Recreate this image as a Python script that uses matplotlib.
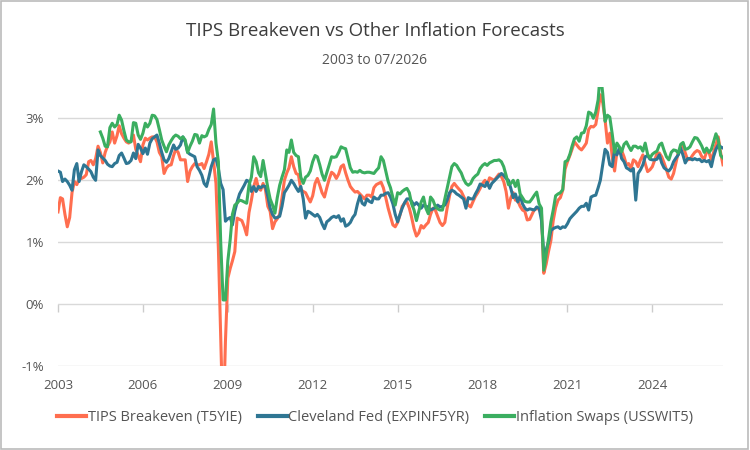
import numpy as np
import pandas as pd
import matplotlib
matplotlib.use("Agg")
import matplotlib.pyplot as plt
from matplotlib.ticker import FuncFormatter
from matplotlib.patches import Rectangle

plt.rcParams["font.family"] = ["Open Sans", "DejaVu Sans"]

# monthly values, Jan 2003 .. Jul 2026 (%)
tips_breakeven = [
    1.49, 1.72, 1.70, 1.45, 1.25, 1.40, 1.80, 1.98, 1.93, 2.02, 2.03, 2.05,
    2.09, 2.30, 2.32, 2.25, 2.35, 2.55, 2.45, 2.28, 2.45, 2.55, 2.62, 2.78,
    2.60, 2.72, 2.88, 2.75, 2.68, 2.62, 2.60, 2.63, 2.73, 2.50, 2.40, 2.30,
    2.57, 2.68, 2.65, 2.68, 2.70, 2.70, 2.62, 2.45, 2.38, 2.11, 2.20, 2.24,
    2.25, 2.40, 2.50, 2.45, 2.33, 2.33, 2.33, 1.98, 2.15, 2.22, 2.27, 2.25,
    2.25, 2.27, 2.19, 2.30, 2.42, 2.62, 2.30, 1.95, 0.90, -0.50, -2.00, -0.60,
    0.42, 0.58, 0.70, 0.85, 1.39, 1.37, 1.35, 1.25, 1.12, 1.48, 1.68, 1.90,
    2.03, 1.87, 1.84, 1.95, 1.85, 1.58, 1.50, 1.22, 1.33, 1.38, 1.45, 1.72,
    2.00, 2.12, 2.20, 2.38, 2.22, 2.11, 2.09, 1.85, 1.82, 1.80, 1.72, 1.65,
    1.75, 1.95, 2.03, 1.92, 1.80, 1.73, 1.88, 2.02, 2.13, 2.10, 2.03, 2.10,
    2.22, 2.25, 2.12, 2.00, 1.90, 1.85, 1.81, 1.82, 1.78, 1.74, 1.70, 1.76,
    1.76, 1.73, 1.88, 1.93, 1.95, 1.97, 1.88, 1.72, 1.55, 1.42, 1.28, 1.25,
    1.32, 1.44, 1.58, 1.63, 1.65, 1.55, 1.40, 1.22, 1.10, 1.15, 1.27, 1.23,
    1.28, 1.32, 1.45, 1.55, 1.52, 1.42, 1.32, 1.27, 1.32, 1.55, 1.75, 1.90,
    1.95, 1.90, 1.86, 1.82, 1.74, 1.66, 1.60, 1.57, 1.66, 1.74, 1.80, 1.87,
    1.95, 2.00, 1.92, 2.04, 2.02, 2.00, 2.05, 2.10, 2.06, 1.98, 1.82, 1.55,
    1.72, 1.80, 1.68, 1.67, 1.58, 1.52, 1.50, 1.36, 1.37, 1.45, 1.53, 1.54,
    1.54, 1.45, 0.50, 0.65, 0.85, 1.03, 1.35, 1.56, 1.68, 1.72, 1.84, 2.18,
    2.30, 2.40, 2.50, 2.62, 2.57, 2.52, 2.49, 2.54, 2.60, 2.82, 2.87, 2.86,
    2.90, 3.13, 3.38, 3.25, 2.98, 2.60, 2.76, 2.38, 2.15, 2.46, 2.44, 2.48,
    2.38, 2.25, 2.27, 2.19, 2.33, 2.30, 2.22, 2.33, 2.41, 2.27, 2.14, 2.17,
    2.22, 2.33, 2.43, 2.44, 2.38, 2.28, 2.17, 2.05, 2.02, 2.11, 2.28, 2.45,
    2.52, 2.57, 2.44, 2.33, 2.34, 2.40, 2.45, 2.48, 2.46, 2.38, 2.34, 2.46,
    2.45, 2.32, 2.45, 2.58, 2.70, 2.44, 2.25,
]

cleveland_fed = [
    2.15, 2.13, 1.98, 2.02, 1.98, 1.92, 1.84, 2.17, 2.27, 1.98, 2.14, 2.25,
    2.22, 2.18, 2.14, 2.05, 2.00, 2.49, 2.40, 2.36, 2.32, 2.26, 2.23, 2.22,
    2.27, 2.29, 2.40, 2.44, 2.36, 2.27, 2.28, 2.32, 2.44, 2.35, 2.58, 2.52,
    2.43, 2.52, 2.42, 2.60, 2.67, 2.70, 2.73, 2.60, 2.45, 2.33, 2.29, 2.35,
    2.46, 2.57, 2.50, 2.52, 2.57, 2.70, 2.62, 2.45, 2.42, 2.40, 2.38, 2.22,
    2.16, 2.08, 1.95, 1.90, 2.05, 2.22, 2.33, 2.35, 2.19, 1.95, 1.85, 1.34,
    1.38, 1.40, 1.28, 1.50, 1.65, 1.78, 1.85, 1.92, 2.00, 1.98, 1.82, 1.90,
    1.82, 1.90, 1.88, 1.91, 1.90, 1.74, 1.55, 1.45, 1.39, 1.40, 1.42, 1.58,
    1.80, 1.86, 1.92, 2.00, 1.95, 1.88, 1.82, 1.90, 1.70, 1.39, 1.50, 1.48,
    1.45, 1.42, 1.45, 1.40, 1.30, 1.22, 1.33, 1.36, 1.40, 1.42, 1.40, 1.43,
    1.34, 1.38, 1.26, 1.28, 1.32, 1.40, 1.45, 1.62, 1.75, 1.63, 1.60, 1.70,
    1.66, 1.64, 1.73, 1.70, 1.70, 1.76, 1.76, 1.79, 1.80, 1.73, 1.62, 1.45,
    1.33, 1.45, 1.55, 1.64, 1.70, 1.70, 1.66, 1.60, 1.64, 1.60, 1.55, 1.60,
    1.58, 1.57, 1.52, 1.54, 1.56, 1.60, 1.57, 1.58, 1.60, 1.68, 1.80, 1.84,
    1.82, 1.78, 1.76, 1.73, 1.70, 1.55, 1.72, 1.70, 1.70, 1.78, 1.85, 1.94,
    1.92, 1.90, 1.97, 1.87, 1.95, 1.99, 2.03, 2.07, 2.11, 2.08, 2.03, 2.00,
    1.87, 1.72, 1.78, 1.65, 1.75, 1.62, 1.55, 1.52, 1.54, 1.53, 1.52, 1.57,
    1.55, 1.35, 0.80, 0.88, 1.00, 1.19, 1.22, 1.24, 1.25, 1.22, 1.25, 1.24,
    1.30, 1.38, 1.42, 1.46, 1.50, 1.55, 1.58, 1.58, 1.63, 1.52, 1.73, 1.75,
    1.76, 1.88, 2.00, 2.25, 2.50, 2.45, 2.25, 2.22, 2.49, 2.41, 2.52, 2.35,
    2.30, 2.20, 2.18, 2.15, 2.19, 1.68, 2.11, 2.17, 2.25, 2.38, 2.40, 2.34,
    2.33, 2.33, 2.34, 2.41, 2.28, 2.20, 2.17, 2.15, 2.20, 2.30, 2.36, 2.41,
    2.52, 2.40, 2.28, 2.35, 2.35, 2.33, 2.35, 2.33, 2.34, 2.30, 2.32, 2.30,
    2.32, 2.22, 2.38, 2.50, 2.57, 2.54, 2.52,
]

# swaps series starts Jul 2004
inflation_swaps = [np.nan] * 18 + [
    2.78, 2.68, 2.55, 2.54, 2.85, 2.92,
    2.86, 2.90, 3.05, 2.97, 2.80, 2.65, 2.62, 2.62, 2.93, 2.92, 2.73, 2.66,
    2.76, 2.92, 2.86, 2.92, 3.05, 3.04, 2.98, 2.82, 2.65, 2.55, 2.46, 2.57,
    2.64, 2.70, 2.73, 2.71, 2.67, 2.70, 2.65, 2.45, 2.55, 2.63, 2.74, 2.73,
    2.60, 2.72, 2.70, 2.72, 2.82, 2.90, 3.15, 2.60, 2.30, 1.00, 0.07, 0.07,
    0.70, 1.05, 1.45, 1.60, 1.63, 1.68, 1.67, 1.65, 1.63, 1.92, 2.05, 2.38,
    2.30, 2.12, 2.06, 2.32, 2.10, 1.88, 1.70, 1.60, 1.47, 1.72, 1.92, 2.05,
    2.17, 2.49, 2.45, 2.65, 2.45, 2.40, 2.38, 2.05, 1.95, 2.05, 2.08, 2.15,
    2.30, 2.40, 2.38, 2.25, 2.10, 2.00, 2.12, 2.25, 2.38, 2.37, 2.38, 2.45,
    2.54, 2.52, 2.51, 2.35, 2.20, 2.13, 2.14, 2.13, 2.16, 2.13, 2.12, 2.13,
    2.13, 2.12, 2.11, 2.16, 2.20, 2.38, 2.32, 2.15, 1.98, 1.88, 1.72, 1.60,
    1.80, 1.78, 1.82, 1.85, 1.87, 1.80, 1.62, 1.52, 1.35, 1.50, 1.65, 1.73,
    1.55, 1.46, 1.73, 1.68, 1.58, 1.54, 1.52, 1.52, 1.70, 1.88, 2.05, 2.22,
    2.27, 2.24, 2.18, 2.12, 2.02, 1.95, 1.92, 1.95, 2.03, 2.07, 2.10, 2.19,
    2.24, 2.27, 2.24, 2.28, 2.30, 2.32, 2.32, 2.33, 2.30, 2.22, 2.08, 1.93,
    1.95, 2.00, 1.90, 2.00, 1.78, 1.72, 1.66, 1.65, 1.65, 1.70, 1.76, 1.81,
    1.62, 1.55, 0.55, 0.80, 1.05, 1.33, 1.52, 1.75, 1.78, 1.80, 1.85, 2.30,
    2.32, 2.42, 2.55, 2.67, 2.70, 2.63, 2.76, 2.77, 2.88, 3.10, 3.08, 3.00,
    3.10, 3.30, 3.75, 3.40, 2.95, 3.05, 3.02, 2.75, 2.45, 2.60, 2.54, 2.46,
    2.58, 2.62, 2.55, 2.48, 2.55, 2.55, 2.52, 2.54, 2.47, 2.60, 2.42, 2.36,
    2.42, 2.45, 2.47, 2.57, 2.60, 2.48, 2.38, 2.33, 2.45, 2.49, 2.48, 2.44,
    2.58, 2.61, 2.50, 2.51, 2.54, 2.62, 2.69, 2.68, 2.62, 2.55, 2.45, 2.52,
    2.45, 2.50, 2.62, 2.75, 2.65, 2.40, 2.36,
]

dates = pd.date_range("2003-01-01", periods=len(tips_breakeven), freq="MS")
year_ticks = [2003, 2006, 2009, 2012, 2015, 2018, 2021, 2024]
y_ticks = [-1, 0, 1, 2, 3]

series = [
    ("TIPS Breakeven (T5YIE)", tips_breakeven, "#ff6e4f"),
    ("Cleveland Fed (EXPINF5YR)", cleveland_fed, "#2f7693"),
    ("Inflation Swaps (USSWIT5)", inflation_swaps, "#3bae60"),
]

fig = plt.figure(figsize=(7.5, 4.5), dpi=100)
ax = fig.add_axes([0.0773, 0.186, 0.8867, 0.62])

for label, values, color in series:
    ax.plot(dates, values, color=color, lw=2.2, label=label,
            solid_joinstyle="round")

ax.set_xlim(dates[0], dates[-1])
ax.set_ylim(-1, 3.5)
ax.set_yticks(y_ticks)
ax.yaxis.set_major_formatter(FuncFormatter(lambda v, _: f"{v:.0f}%"))
ax.grid(axis="y", color="#d9d9d9", lw=1)
ax.set_axisbelow(True)
for s in ax.spines.values():
    s.set_visible(False)

tick_dates = [pd.Timestamp(f"{y}-01-01") for y in year_ticks]
ax.set_xticks(tick_dates)
ax.set_xticklabels([str(y) for y in year_ticks])
ax.tick_params(axis="x", length=0, pad=9, labelsize=9.5, labelcolor="#555555")
ax.tick_params(axis="y", length=0, pad=10, labelsize=9.5, labelcolor="#555555")

# tick marks hanging from the 0% line
sec = ax.secondary_xaxis(1 / 4.5)
sec.set_xticks(tick_dates)
sec.tick_params(axis="x", length=6, width=1, color="#cccccc",
                labelbottom=False)
sec.spines["bottom"].set_visible(False)

fig.text(0.5, 0.931, "TIPS Breakeven vs Other Inflation Forecasts",
         ha="center", va="center", fontsize=13.5, color="#3d3d3d")
fig.text(0.5, 0.866, "2003 to 07/2026", ha="center", va="center",
         fontsize=10, color="#555555")

ax.legend(loc="center", bbox_to_anchor=(0.5, 0.073), bbox_transform=fig.transFigure,
          ncol=3, frameon=False, fontsize=10.5, handlelength=2.0,
          handletextpad=0.08, columnspacing=1.1, labelcolor="#555555")
for line in ax.get_legend().get_lines():
    line.set_linewidth(3)

fig.patches.append(Rectangle((0.001, 0.002), 0.996, 0.996, transform=fig.transFigure,
                             fill=False, edgecolor="#bbbbbb", lw=1.2))

fig.savefig("out.png", dpi=100)
